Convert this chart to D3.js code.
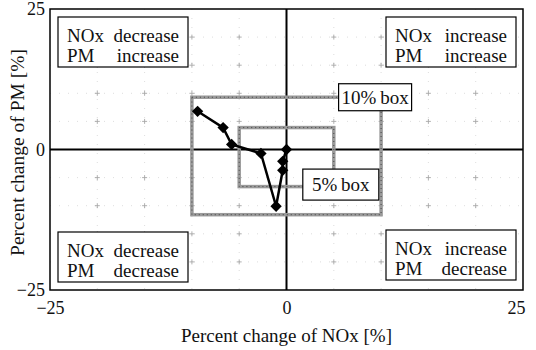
<!DOCTYPE html>
<html>
<head>
<meta charset="utf-8">
<script src="https://cdn.jsdelivr.net/npm/d3@7"></script>
<style>
  body { margin: 0; background: #fff; }
  svg text { font-family: "Liberation Serif", "Times New Roman", serif; fill: #111; }
</style>
</head>
<body>
<div id="chart"></div>
<script>
const noxChange = [-9.4, -6.7, -5.8, -2.7, -1.1, -0.4, -0.4, 0.0];
const pmChange  = [6.8, 3.9, 0.9, -0.7, -10.1, -3.7, -2.1, 0.0];

const xTickValues = [-25, 0, 25];
const yTickValues = [-25, 0, 25];
const gridValues = [-20, -15, -10, -5, 5, 10, 15, 20];

// tolerance boxes: [xmin, xmax, ymin, ymax]
const box10 = [-10, 10, -11.6, 9.3];
const box5 = [-5, 5, -6.6, 3.9];
const boxNames = ["10%\u2009box", "5%\u2009box"];

const quadrantTop = ["NOx", "NOx", "NOx", "NOx"];
const quadrantTopWord = ["decrease", "increase", "decrease", "increase"];
const quadrantBottomWord = ["increase", "increase", "decrease", "decrease"];

let width = 536, height = 350;
let pLeft = 50, pRight = 523, pTop = 9, pBottom = 290;

let svg = d3.select("#chart")
    .append("svg")
    .attr("width", width)
    .attr("height", height);

let xScale = d3.scaleLinear().domain([-25, 25]).range([pLeft, pRight]);
let yScale = d3.scaleLinear().domain([-25, 25]).range([pBottom, pTop]);

// faint dotted grid
svg.append("g")
    .selectAll("line.gx")
    .data(gridValues)
    .enter()
    .append("line")
    .attr("x1", d => xScale(d)).attr("x2", d => xScale(d))
    .attr("y1", pTop).attr("y2", pBottom)
    .attr("stroke", "#d4d4d4")
    .attr("stroke-width", 0.8)
    .attr("stroke-dasharray", "1 8");
svg.append("g")
    .selectAll("line.gy")
    .data(gridValues)
    .enter()
    .append("line")
    .attr("y1", d => yScale(d)).attr("y2", d => yScale(d))
    .attr("x1", pLeft).attr("x2", pRight)
    .attr("stroke", "#d4d4d4")
    .attr("stroke-width", 0.8)
    .attr("stroke-dasharray", "1 8");

// "+" marks at grid crossings
let crossings = [];
gridValues.forEach(gx => gridValues.forEach(gy => crossings.push([gx, gy])));
svg.append("g")
    .selectAll("path")
    .data(crossings)
    .enter()
    .append("path")
    .attr("d", d => `M${xScale(d[0]) - 2.5},${yScale(d[1])}h5M${xScale(d[0])},${yScale(d[1]) - 2.5}v5`)
    .attr("stroke", "#a8a8a8")
    .attr("stroke-width", 0.9);

// zero lines
svg.append("line")
    .attr("x1", xScale(0)).attr("x2", xScale(0))
    .attr("y1", pTop).attr("y2", pBottom)
    .attr("stroke", "#000").attr("stroke-width", 2);
svg.append("line")
    .attr("x1", pLeft).attr("x2", pRight)
    .attr("y1", yScale(0)).attr("y2", yScale(0))
    .attr("stroke", "#000").attr("stroke-width", 2);

// frame
svg.append("rect")
    .attr("x", pLeft).attr("y", pTop)
    .attr("width", pRight - pLeft).attr("height", pBottom - pTop)
    .attr("fill", "none")
    .attr("stroke", "#000")
    .attr("stroke-width", 1.5);

// tolerance boxes (grey, speckled)
[box10, box5].forEach(b => {
    svg.append("rect")
        .attr("x", xScale(b[0])).attr("y", yScale(b[3]))
        .attr("width", xScale(b[1]) - xScale(b[0]))
        .attr("height", yScale(b[2]) - yScale(b[3]))
        .attr("fill", "none")
        .attr("stroke", "#9a9a9a")
        .attr("stroke-width", 3.5);
    svg.append("rect")
        .attr("x", xScale(b[0])).attr("y", yScale(b[3]))
        .attr("width", xScale(b[1]) - xScale(b[0]))
        .attr("height", yScale(b[2]) - yScale(b[3]))
        .attr("fill", "none")
        .attr("stroke", "#444")
        .attr("stroke-width", 1)
        .attr("stroke-dasharray", "1 3");
});

// data line + diamonds
let pts = noxChange.map((d, i) => [d, pmChange[i]]);
svg.append("path")
    .datum(pts)
    .attr("d", d3.line().x(d => xScale(d[0])).y(d => yScale(d[1])))
    .attr("fill", "none")
    .attr("stroke", "#000")
    .attr("stroke-width", 2.5);
svg.append("g")
    .selectAll("path")
    .data(pts)
    .enter()
    .append("path")
    .attr("d", d3.symbol().type(d3.symbolSquare).size(64))
    .attr("transform", d => `translate(${xScale(d[0])},${yScale(d[1])}) rotate(45)`)
    .attr("fill", "#000");

// box name labels, centred near the top-right / bottom-right corners
let boxLabels = [
    { name: boxNames[0], cx: xScale(box10[1]) - 6, cy: yScale(box10[3]), w: 73, h: 27 },
    { name: boxNames[1], cx: xScale(box5[1]) + 7, cy: yScale(box5[2]) - 2, w: 76, h: 31 }
];
boxLabels.forEach(l => {
    svg.append("rect")
        .attr("x", l.cx - l.w / 2).attr("y", l.cy - l.h / 2)
        .attr("width", l.w).attr("height", l.h)
        .attr("fill", "#fff")
        .attr("stroke", "#000")
        .attr("stroke-width", 1.2);
    svg.append("text")
        .attr("x", l.cx).attr("y", l.cy + 6.5)
        .attr("text-anchor", "middle")
        .attr("font-size", "19px")
        .text(l.name);
});

// quadrant labels
let qx = [pLeft + 8, pRight - 137, pLeft + 8, pRight - 137];
let qy = [pTop + 8, pTop + 8, pBottom - 58, pBottom - 60];
qx.forEach((x, i) => {
    let g = svg.append("g").attr("transform", `translate(${x},${qy[i]})`);
    g.append("rect")
        .attr("width", 130).attr("height", 50)
        .attr("fill", "#fff")
        .attr("stroke", "#000")
        .attr("stroke-width", 1.2);
    g.append("text").attr("x", 9).attr("y", 25).attr("font-size", "19px").text(quadrantTop[i]);
    g.append("text").attr("x", 121).attr("y", 25).attr("text-anchor", "end").attr("font-size", "19px").text(quadrantTopWord[i]);
    g.append("text").attr("x", 9).attr("y", 45).attr("font-size", "19px").text("PM");
    g.append("text").attr("x", 121).attr("y", 45).attr("text-anchor", "end").attr("font-size", "19px").text(quadrantBottomWord[i]);
});

// axes
let fmt = d3.format("");
let xAxis = d3.axisBottom(xScale).tickValues(xTickValues).tickSize(0).tickPadding(11).tickFormat(fmt);
let yAxis = d3.axisLeft(yScale).tickValues(yTickValues).tickSize(0).tickPadding(5).tickFormat(fmt);

let gx = svg.append("g")
    .attr("transform", "translate(0," + pBottom + ")")
    .call(xAxis);
gx.select(".domain").remove();
gx.selectAll("text").attr("font-size", "18px").attr("font-family", "Liberation Serif").attr("fill", "#111");
gx.selectAll(".tick").filter(d => d === 25).select("text").attr("text-anchor", "end").attr("dx", "2");

let gy = svg.append("g")
    .attr("transform", "translate(" + pLeft + ",0)")
    .call(yAxis);
gy.select(".domain").remove();
gy.selectAll("text").attr("font-size", "18px").attr("font-family", "Liberation Serif").attr("fill", "#111");

// axis titles
svg.append("text")
    .attr("x", xScale(0))
    .attr("y", 342)
    .attr("text-anchor", "middle")
    .attr("font-size", "19px")
    .text("Percent change of NOx [%]");

svg.append("text")
    .attr("transform", `translate(24,${yScale(0) + 3}) rotate(-90)`)
    .attr("text-anchor", "middle")
    .attr("font-size", "19.5px")
    .text("Percent change of PM [%]");
</script>
</body>
</html>
